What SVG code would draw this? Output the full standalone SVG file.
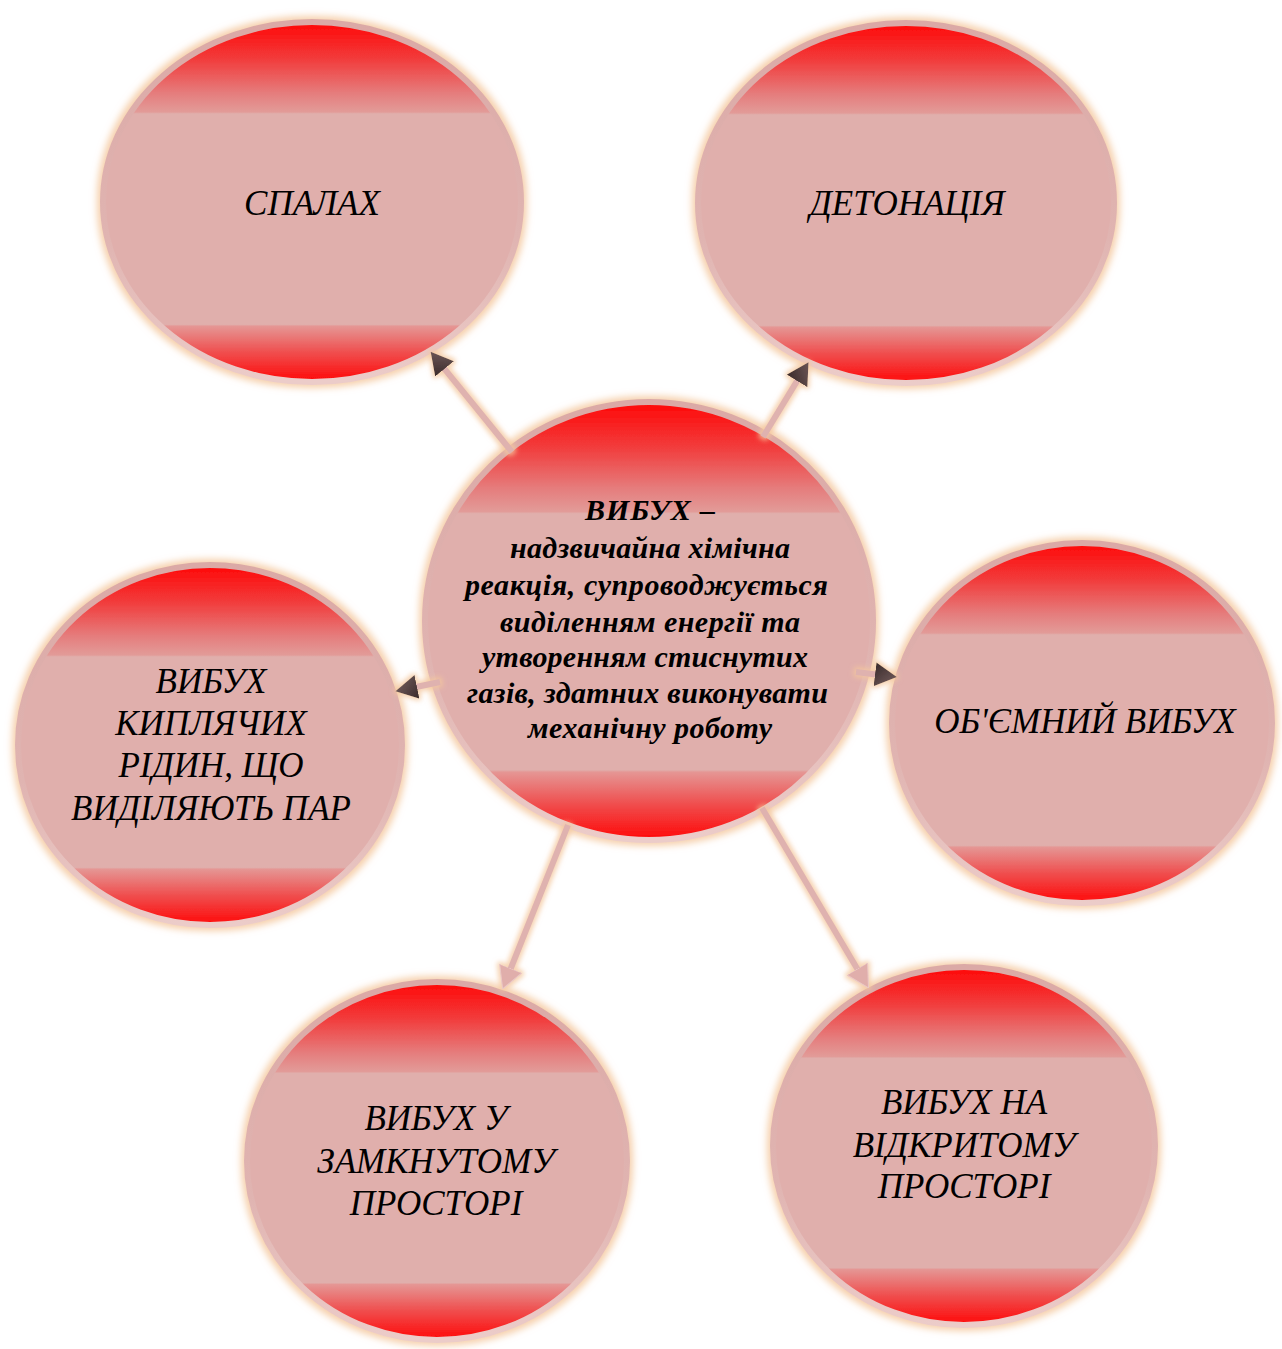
<svg xmlns="http://www.w3.org/2000/svg" width="1282" height="1349" viewBox="0 0 1282 1349">
<style>
  .node-shape { fill: url(#fillGrad); stroke: url(#strokeGrad); stroke-width: 6; filter: url(#glow); }
  .lbl { font-family: "Liberation Serif", "Times New Roman", serif; font-style: italic; font-size: 35px; fill: #000; text-anchor: middle; }
  .clbl { font-family: "Liberation Serif", "Times New Roman", serif; font-style: italic; font-weight: bold; font-size: 30px; fill: #000; text-anchor: middle; }
  .conn { stroke: #dfb2af; stroke-width: 6; fill: none; filter: url(#glowLine); }
</style>
<defs>
  <linearGradient id="fillGrad" x1="0" y1="0" x2="0" y2="1">
    <stop offset="0" stop-color="#ff0707"/>
    <stop offset="0.1" stop-color="#f23a3a"/>
    <stop offset="0.2" stop-color="#e57e7e"/>
    <stop offset="0.25" stop-color="#e29b98"/>
    <stop offset="0.255" stop-color="#e0afac"/>
    <stop offset="0.84" stop-color="#e0afac"/>
    <stop offset="0.845" stop-color="#e59694"/>
    <stop offset="0.92" stop-color="#f04c4c"/>
    <stop offset="1" stop-color="#ff0707"/>
  </linearGradient>
  <linearGradient id="strokeGrad" x1="0" y1="0" x2="0" y2="1">
    <stop offset="0" stop-color="#dba9a6"/>
    <stop offset="0.6" stop-color="#e0b4b1"/>
    <stop offset="1" stop-color="#ecccc9"/>
  </linearGradient>
  <linearGradient id="darkHead" x1="0" y1="0" x2="1" y2="1">
    <stop offset="0" stop-color="#3a2b2b"/>
    <stop offset="1" stop-color="#7a6262"/>
  </linearGradient>
  <filter id="glow" x="-10%" y="-10%" width="120%" height="120%">
    <feMorphology in="SourceAlpha" operator="dilate" radius="3" result="d"/>
    <feGaussianBlur in="d" stdDeviation="3.5" result="b"/>
    <feFlood flood-color="#f4c79d" flood-opacity="0.85"/>
    <feComposite in2="b" operator="in" result="g"/>
    <feMerge><feMergeNode in="g"/><feMergeNode in="SourceGraphic"/></feMerge>
  </filter>
  <filter id="glowLine" filterUnits="userSpaceOnUse" x="0" y="0" width="1282" height="1349">
    <feMorphology in="SourceAlpha" operator="dilate" radius="2" result="d"/>
    <feGaussianBlur in="d" stdDeviation="2.5" result="b"/>
    <feFlood flood-color="#f4c79d" flood-opacity="0.8"/>
    <feComposite in2="b" operator="in" result="g"/>
    <feMerge><feMergeNode in="g"/><feMergeNode in="SourceGraphic"/></feMerge>
  </filter>
  <marker id="arrDark" viewBox="0 0 22 24" refX="1" refY="12" markerWidth="22" markerHeight="24" markerUnits="userSpaceOnUse" orient="auto">
    <path d="M0,0 L22,12 L0,24 z" fill="url(#darkHead)"/>
  </marker>
  <marker id="arrPink" viewBox="0 0 22 24" refX="1" refY="12" markerWidth="22" markerHeight="24" markerUnits="userSpaceOnUse" orient="auto">
    <path d="M0,0 L22,12 L0,24 z" fill="#e0aeab" stroke="#ebc9c6" stroke-width="1"/>
  </marker>
</defs>
<rect width="1282" height="1349" fill="#ffffff"/>

<g id="node-spalakh">
  <ellipse class="node-shape" cx="312" cy="202" rx="209" ry="180"/>
  <text class="lbl" x="312" y="215">СПАЛАХ</text>
</g>
<g id="node-detonatsiia">
  <ellipse class="node-shape" cx="906" cy="203" rx="208" ry="180"/>
  <text class="lbl" x="907" y="215">ДЕТОНАЦІЯ</text>
</g>
<g id="node-kypliachykh">
  <ellipse class="node-shape" cx="210" cy="745" rx="192" ry="180"/>
  <text class="lbl" x="211" y="693">ВИБУХ</text>
  <text class="lbl" x="211" y="735">КИПЛЯЧИХ</text>
  <text class="lbl" x="211" y="777">РІДИН, ЩО</text>
  <text class="lbl" x="211" y="820">ВИДІЛЯЮТЬ ПАР</text>
</g>
<g id="node-obiemnyi">
  <ellipse class="node-shape" cx="1082" cy="723" rx="190" ry="180"/>
  <text class="lbl" x="1085" y="733">ОБ'ЄМНИЙ ВИБУХ</text>
</g>
<g id="node-zamknutomu">
  <ellipse class="node-shape" cx="437" cy="1161" rx="190" ry="179"/>
  <text class="lbl" x="436" y="1130">ВИБУХ У</text>
  <text class="lbl" x="436" y="1173">ЗАМКНУТОМУ</text>
  <text class="lbl" x="436" y="1215">ПРОСТОРІ</text>
</g>
<g id="node-vidkrytomu">
  <ellipse class="node-shape" cx="964" cy="1146" rx="191" ry="179"/>
  <text class="lbl" x="964" y="1114">ВИБУХ НА</text>
  <text class="lbl" x="964" y="1157">ВІДКРИТОМУ</text>
  <text class="lbl" x="964" y="1198">ПРОСТОРІ</text>
</g>
<g id="node-vybukh">
  <ellipse class="node-shape" cx="649" cy="621" rx="224" ry="219"/>
  <text class="clbl" x="650" y="520" textLength="130" lengthAdjust="spacing">ВИБУХ –</text>
  <text class="clbl" x="650" y="558" textLength="280" lengthAdjust="spacing">надзвичайна хімічна</text>
  <text class="clbl" x="646.5" y="595" textLength="363" lengthAdjust="spacing">реакція, супроводжується</text>
  <text class="clbl" x="650" y="632" textLength="300" lengthAdjust="spacing">виділенням енергії та</text>
  <text class="clbl" x="645" y="667" textLength="326" lengthAdjust="spacing">утворенням стиснутих</text>
  <text class="clbl" x="647.5" y="703" textLength="361" lengthAdjust="spacing">газів, здатних виконувати</text>
  <text class="clbl" x="650" y="738" textLength="244" lengthAdjust="spacing">механічну роботу</text>
</g>

<g id="connectors">
  <line class="conn" x1="512" y1="452" x2="443.9" y2="368.1" marker-end="url(#arrDark)"/>
  <line class="conn" x1="763" y1="437" x2="797.6" y2="380.1" marker-end="url(#arrDark)"/>
  <line class="conn" x1="440" y1="682" x2="416" y2="687" marker-end="url(#arrDark)"/>
  <line class="conn" x1="856" y1="672" x2="876" y2="674.5" marker-end="url(#arrDark)"/>
  <line class="conn" x1="568" y1="825" x2="510.4" y2="969.4" marker-end="url(#arrPink)"/>
  <line class="conn" x1="762" y1="808" x2="857.8" y2="969.8" marker-end="url(#arrPink)"/>
</g>
</svg>
